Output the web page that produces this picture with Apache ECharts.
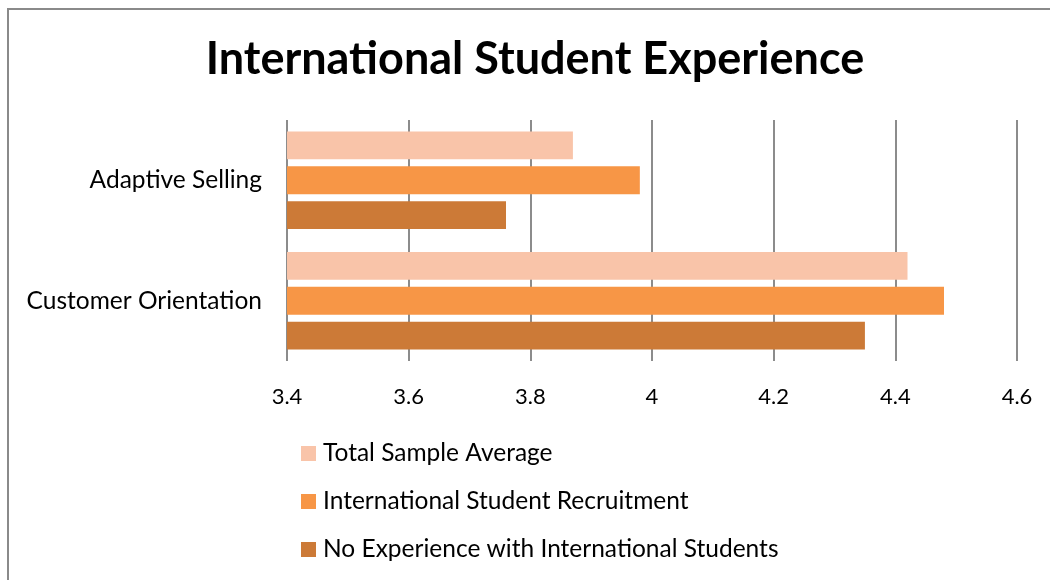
<!DOCTYPE html>
<html>
<head>
<meta charset="utf-8">
<script src="https://cdn.jsdelivr.net/npm/echarts@6/dist/echarts.min.js"></script>
<style>
  html, body { margin: 0; padding: 0; background: #fff; }
  #chart { width: 1050px; height: 580px; }
</style>
</head>
<body>
<div id="chart"></div>
<script>
// Mean scores per dimension, by group
const categories = ['Adaptive Selling', 'Customer Orientation'];
const seriesNames = [
  'Total Sample Average',
  'International Student Recruitment',
  'No Experience with International Students'
];
const totalSample = [3.87, 4.42];
const intlRecruitment = [3.98, 4.48];
const noExperience = [3.76, 4.35];
const seriesValues = [totalSample, intlRecruitment, noExperience];
const seriesColors = ['#F9C4A9', '#F79646', '#CC7A37'];

const FONT = 'Lato, "Open Sans", sans-serif';

const chart = echarts.init(document.getElementById('chart'), null, { renderer: 'canvas' });

chart.setOption({
  animation: false,
  backgroundColor: '#ffffff',
  graphic: [{
    type: 'rect',
    shape: { x: 8, y: 9, width: 1100, height: 620 },
    style: { fill: 'none', stroke: '#8a8a8a', lineWidth: 2 },
    silent: true,
    z: 100
  }],
  title: {
    text: 'International Student Experience',
    left: 535,
    textAlign: 'center',
    top: 37,
    padding: 0,
    textStyle: { fontFamily: FONT, fontSize: 45, fontWeight: 'bold', color: '#000' }
  },
  legend: {
    orient: 'vertical',
    left: 301,
    top: 441,
    padding: 0,
    itemWidth: 15,
    itemHeight: 15,
    itemGap: 23,
    icon: 'rect',
    data: seriesNames,
    textStyle: { fontFamily: FONT, fontSize: 24.5, color: '#000', lineHeight: 24, padding: [0, 0, 0, 2] }
  },
  grid: { left: 287, right: 33, top: 120, bottom: 219, containLabel: false },
  xAxis: {
    type: 'value',
    min: 3.4,
    max: 4.6,
    interval: 0.2,
    axisLine: { show: false },
    axisTick: { show: false },
    axisLabel: {
      fontFamily: FONT, fontSize: 22, color: '#000', margin: 25,
      formatter: v => String(Math.round(v * 10) / 10)
    },
    splitLine: { show: true, lineStyle: { color: '#8c8c8c', width: 2 } }
  },
  yAxis: {
    type: 'category',
    data: categories,
    inverse: true,
    axisLine: { show: false },
    axisTick: { show: false },
    axisLabel: { fontFamily: FONT, fontSize: 24.5, color: '#000', margin: 25 }
  },
  series: seriesNames.map((name, i) => ({
    name,
    type: 'bar',
    data: seriesValues[i],
    itemStyle: { color: seriesColors[i] },
    barGap: '25%',
    barCategoryGap: '19%'
  }))
});
</script>
</body>
</html>
